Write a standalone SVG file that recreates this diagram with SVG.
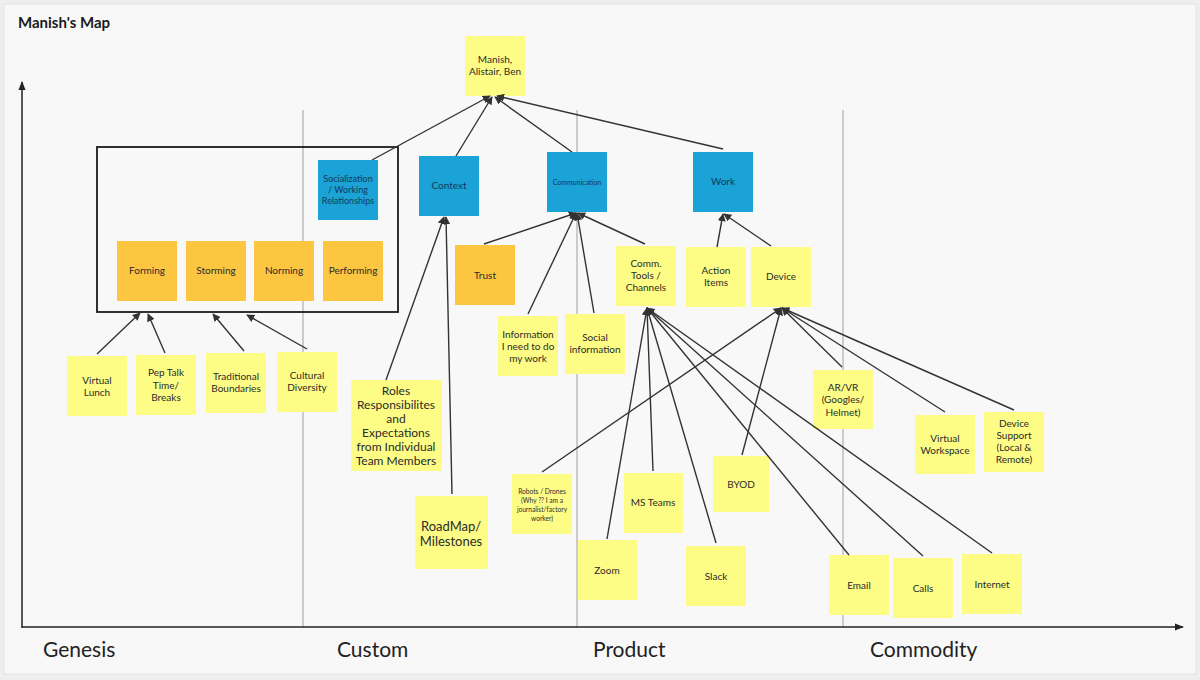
<svg xmlns="http://www.w3.org/2000/svg" width="1200" height="680" viewBox="0 0 1200 680">
  <style>
    .note { stroke: none; }
    .yellow { fill: #fdfd86; }
    .orange { fill: #fcc641; }
    .blue { fill: #1ba2d6; }
    .t { font-family: Lato, "Liberation Sans", sans-serif; font-size: 10px; fill: #2b2b2b; text-anchor: middle; }
    .tb { font-family: Lato, "Liberation Sans", sans-serif; font-size: 10px; fill: #123a5a; text-anchor: middle; }
    .t-9 { font-size: 9px; }
    .t-md { font-size: 12px; }
    .t-lg { font-size: 13px; }
    .t-sm { font-size: 7px; }
    .t-xs { font-size: 6.6px; }
    .axis-label { font-family: Lato, "Liberation Sans", sans-serif; font-size: 21px; fill: #222; }
    .grid { stroke: #bdbdbd; stroke-width: 1.5; }
    .edge { stroke: #333; stroke-width: 1.4; fill: none; marker-end: url(#arrow); }
  </style>
  <defs>
    <marker id="arrow" viewBox="0 0 10 10" refX="9" refY="5" markerWidth="8" markerHeight="8" markerUnits="userSpaceOnUse" orient="auto">
      <path d="M0,0 L10,5 L0,10 Z" fill="#333"/>
    </marker>
    <marker id="axis-arrow" viewBox="0 0 10 10" refX="9" refY="5" markerWidth="9" markerHeight="9" markerUnits="userSpaceOnUse" orient="auto">
      <path d="M0,1 L10,5 L0,9 Z" fill="#222"/>
    </marker>
  </defs>

  <!-- canvas -->
  <rect x="0" y="0" width="1200" height="680" fill="#eeeeee"/>
  <rect x="4" y="4" width="1192" height="670" fill="#f8f8f8" stroke="#e4e4e4" stroke-width="1"/>
  <text x="18" y="28" font-family="Lato, 'Liberation Sans', sans-serif" font-size="15" font-weight="bold" fill="#1a1a1a">Manish's Map</text>

  <!-- evolution stage separators -->
  <g id="grid">
    <line class="grid" x1="303" y1="110" x2="303" y2="627"/>
    <line class="grid" x1="577" y1="110" x2="577" y2="627"/>
    <line class="grid" x1="843" y1="110" x2="843" y2="627"/>
  </g>

  <!-- axes -->
  <g id="axes">
    <line x1="22" y1="628" x2="22" y2="82" stroke="#222" stroke-width="1.5" marker-end="url(#axis-arrow)"/>
    <line x1="22" y1="627" x2="1183" y2="627" stroke="#222" stroke-width="1.5" marker-end="url(#axis-arrow)"/>
    <text class="axis-label" x="43" y="657">Genesis</text>
    <text class="axis-label" x="337" y="657">Custom</text>
    <text class="axis-label" x="593" y="657">Product</text>
    <text class="axis-label" x="870" y="657">Commodity</text>
  </g>

  <!-- team-stage grouping frame -->
  <rect id="stages-frame" x="97" y="147" width="301" height="165" fill="none" stroke="#1a1a1a" stroke-width="1.8"/>

  <!-- nodes -->
  <g id="n-team">
    <rect class="note yellow" x="465" y="36" width="60" height="60"/>
    <text class="t" x="495" y="63">Manish,</text>
    <text class="t" x="495" y="75">Alistair, Ben</text>
  </g>
  <g id="n-socialization">
    <rect class="note blue" x="318" y="160" width="60" height="60"/>
    <text class="tb t-9" x="348" y="182">Socialization</text>
    <text class="tb t-9" x="348" y="193">/ Working</text>
    <text class="tb t-9" x="348" y="204">Relationships</text>
  </g>
  <g id="n-context">
    <rect class="note blue" x="419" y="156" width="60" height="60"/>
    <text class="tb" x="449" y="189">Context</text>
  </g>
  <g id="n-communication">
    <rect class="note blue" x="547" y="152" width="60" height="60"/>
    <text class="tb t-sm" x="577" y="185">Communication</text>
  </g>
  <g id="n-work">
    <rect class="note blue" x="693" y="152" width="60" height="60"/>
    <text class="tb" x="723" y="185">Work</text>
  </g>

  <g id="n-forming">
    <rect class="note orange" x="117" y="241" width="60" height="60"/>
    <text class="t" x="147" y="274">Forming</text>
  </g>
  <g id="n-storming">
    <rect class="note orange" x="186" y="241" width="60" height="60"/>
    <text class="t" x="216" y="274">Storming</text>
  </g>
  <g id="n-norming">
    <rect class="note orange" x="254" y="241" width="60" height="60"/>
    <text class="t" x="284" y="274">Norming</text>
  </g>
  <g id="n-performing">
    <rect class="note orange" x="323" y="241" width="60" height="60"/>
    <text class="t" x="353" y="274">Performing</text>
  </g>
  <g id="n-trust">
    <rect class="note orange" x="455" y="245" width="60" height="60"/>
    <text class="t" x="485" y="279">Trust</text>
  </g>

  <g id="n-information">
    <rect class="note yellow" x="498" y="316" width="60" height="60"/>
    <text class="t" x="528" y="338">Information</text>
    <text class="t" x="528" y="350">I need to do</text>
    <text class="t" x="528" y="362">my work</text>
  </g>
  <g id="n-social-info">
    <rect class="note yellow" x="565" y="314" width="60" height="60"/>
    <text class="t" x="595" y="341">Social</text>
    <text class="t" x="595" y="353">information</text>
  </g>
  <g id="n-comm-tools">
    <rect class="note yellow" x="616" y="246" width="60" height="60"/>
    <text class="t" x="646" y="267">Comm.</text>
    <text class="t" x="646" y="279">Tools /</text>
    <text class="t" x="646" y="291">Channels</text>
  </g>
  <g id="n-action-items">
    <rect class="note yellow" x="686" y="247" width="60" height="60"/>
    <text class="t" x="716" y="274">Action</text>
    <text class="t" x="716" y="286">Items</text>
  </g>
  <g id="n-device">
    <rect class="note yellow" x="751" y="247" width="60" height="60"/>
    <text class="t" x="781" y="280">Device</text>
  </g>

  <g id="n-virtual-lunch">
    <rect class="note yellow" x="67" y="356" width="60" height="60"/>
    <text class="t" x="97" y="384">Virtual</text>
    <text class="t" x="97" y="396">Lunch</text>
  </g>
  <g id="n-pep-talk">
    <rect class="note yellow" x="136" y="355" width="60" height="60"/>
    <text class="t" x="166" y="376">Pep Talk</text>
    <text class="t" x="166" y="389">Time/</text>
    <text class="t" x="166" y="401">Breaks</text>
  </g>
  <g id="n-boundaries">
    <rect class="note yellow" x="206" y="353" width="60" height="60"/>
    <text class="t" x="236" y="380">Traditional</text>
    <text class="t" x="236" y="392">Boundaries</text>
  </g>
  <g id="n-diversity">
    <rect class="note yellow" x="277" y="352" width="60" height="60"/>
    <text class="t" x="307" y="379">Cultural</text>
    <text class="t" x="307" y="391">Diversity</text>
  </g>

  <g id="n-roles">
    <rect class="note yellow" x="351" y="380" width="91" height="91"/>
    <text class="t t-md" x="396" y="395">Roles</text>
    <text class="t t-md" x="396" y="409">Responsibilites</text>
    <text class="t t-md" x="396" y="423">and</text>
    <text class="t t-md" x="396" y="437">Expectations</text>
    <text class="t t-md" x="396" y="451">from Individual</text>
    <text class="t t-md" x="396" y="465">Team Members</text>
  </g>
  <g id="n-roadmap">
    <rect class="note yellow" x="415" y="496" width="73" height="73"/>
    <text class="t t-lg" x="451" y="531">RoadMap/</text>
    <text class="t t-lg" x="451" y="546">Milestones</text>
  </g>

  <g id="n-robots">
    <rect class="note yellow" x="512" y="474" width="60" height="60"/>
    <text class="t t-xs" x="542" y="494">Robots / Drones</text>
    <text class="t t-xs" x="542" y="503">(Why ?? I am a</text>
    <text class="t t-xs" x="542" y="512">journalist/factory</text>
    <text class="t t-xs" x="542" y="521">worker)</text>
  </g>
  <g id="n-zoom">
    <rect class="note yellow" x="578" y="540" width="59" height="60"/>
    <text class="t" x="607" y="574">Zoom</text>
  </g>
  <g id="n-msteams">
    <rect class="note yellow" x="624" y="473" width="59" height="60"/>
    <text class="t" x="653" y="506">MS Teams</text>
  </g>
  <g id="n-slack">
    <rect class="note yellow" x="686" y="546" width="60" height="60"/>
    <text class="t" x="716" y="580">Slack</text>
  </g>
  <g id="n-byod">
    <rect class="note yellow" x="713" y="456" width="56" height="56"/>
    <text class="t" x="741" y="488">BYOD</text>
  </g>
  <g id="n-arvr">
    <rect class="note yellow" x="813" y="370" width="60" height="59"/>
    <text class="t" x="843" y="391">AR/VR</text>
    <text class="t" x="843" y="403">(Googles/</text>
    <text class="t" x="843" y="416">Helmet)</text>
  </g>
  <g id="n-virtual-workspace">
    <rect class="note yellow" x="915" y="415" width="60" height="59"/>
    <text class="t" x="945" y="442">Virtual</text>
    <text class="t" x="945" y="454">Workspace</text>
  </g>
  <g id="n-device-support">
    <rect class="note yellow" x="984" y="412" width="60" height="60"/>
    <text class="t" x="1014" y="427">Device</text>
    <text class="t" x="1014" y="439">Support</text>
    <text class="t" x="1014" y="451">(Local &amp;</text>
    <text class="t" x="1014" y="463">Remote)</text>
  </g>
  <g id="n-email">
    <rect class="note yellow" x="829" y="555" width="60" height="60"/>
    <text class="t" x="859" y="589">Email</text>
  </g>
  <g id="n-calls">
    <rect class="note yellow" x="893" y="558" width="60" height="60"/>
    <text class="t" x="923" y="592">Calls</text>
  </g>
  <g id="n-internet">
    <rect class="note yellow" x="962" y="554" width="60" height="60"/>
    <text class="t" x="992" y="588">Internet</text>
  </g>

  <!-- connectors -->
  <g id="connectors">
    <!-- needs into the team -->
    <line class="edge" x1="372" y1="160" x2="490" y2="96"/>
    <line class="edge" x1="456" y1="156" x2="492" y2="97"/>
    <line class="edge" x1="572" y1="152" x2="495" y2="97"/>
    <line class="edge" x1="723" y1="149" x2="497" y2="96"/>

    <!-- context -->
    <line class="edge" x1="386" y1="380" x2="444" y2="217"/>
    <line class="edge" x1="452" y1="494" x2="446" y2="217"/>

    <!-- communication -->
    <line class="edge" x1="484" y1="244" x2="576" y2="213"/>
    <line class="edge" x1="528" y1="314" x2="576" y2="213"/>
    <line class="edge" x1="594" y1="313" x2="577" y2="213"/>
    <line class="edge" x1="645" y1="244" x2="578" y2="213"/>

    <!-- work -->
    <line class="edge" x1="717" y1="247" x2="723" y2="214"/>
    <line class="edge" x1="771" y1="246" x2="724" y2="214"/>

    <!-- team stages -->
    <line class="edge" x1="97" y1="354" x2="140" y2="313"/>
    <line class="edge" x1="165" y1="353" x2="148" y2="314"/>
    <line class="edge" x1="244" y1="351" x2="213" y2="314"/>
    <line class="edge" x1="307" y1="349" x2="247" y2="315"/>

    <!-- comm. tools / channels -->
    <line class="edge" x1="607" y1="539" x2="647" y2="308"/>
    <line class="edge" x1="653" y1="471" x2="647" y2="308"/>
    <line class="edge" x1="716" y1="543" x2="647" y2="308"/>
    <line class="edge" x1="849" y1="555" x2="647" y2="308"/>
    <line class="edge" x1="923" y1="556" x2="647" y2="308"/>
    <line class="edge" x1="992" y1="553" x2="647" y2="308"/>

    <!-- device -->
    <line class="edge" x1="542" y1="472" x2="781" y2="308"/>
    <line class="edge" x1="742" y1="455" x2="781" y2="308"/>
    <line class="edge" x1="842" y1="367" x2="782" y2="308"/>
    <line class="edge" x1="945" y1="412" x2="782" y2="308"/>
    <line class="edge" x1="1014" y1="410" x2="782" y2="308"/>
  </g>
</svg>
